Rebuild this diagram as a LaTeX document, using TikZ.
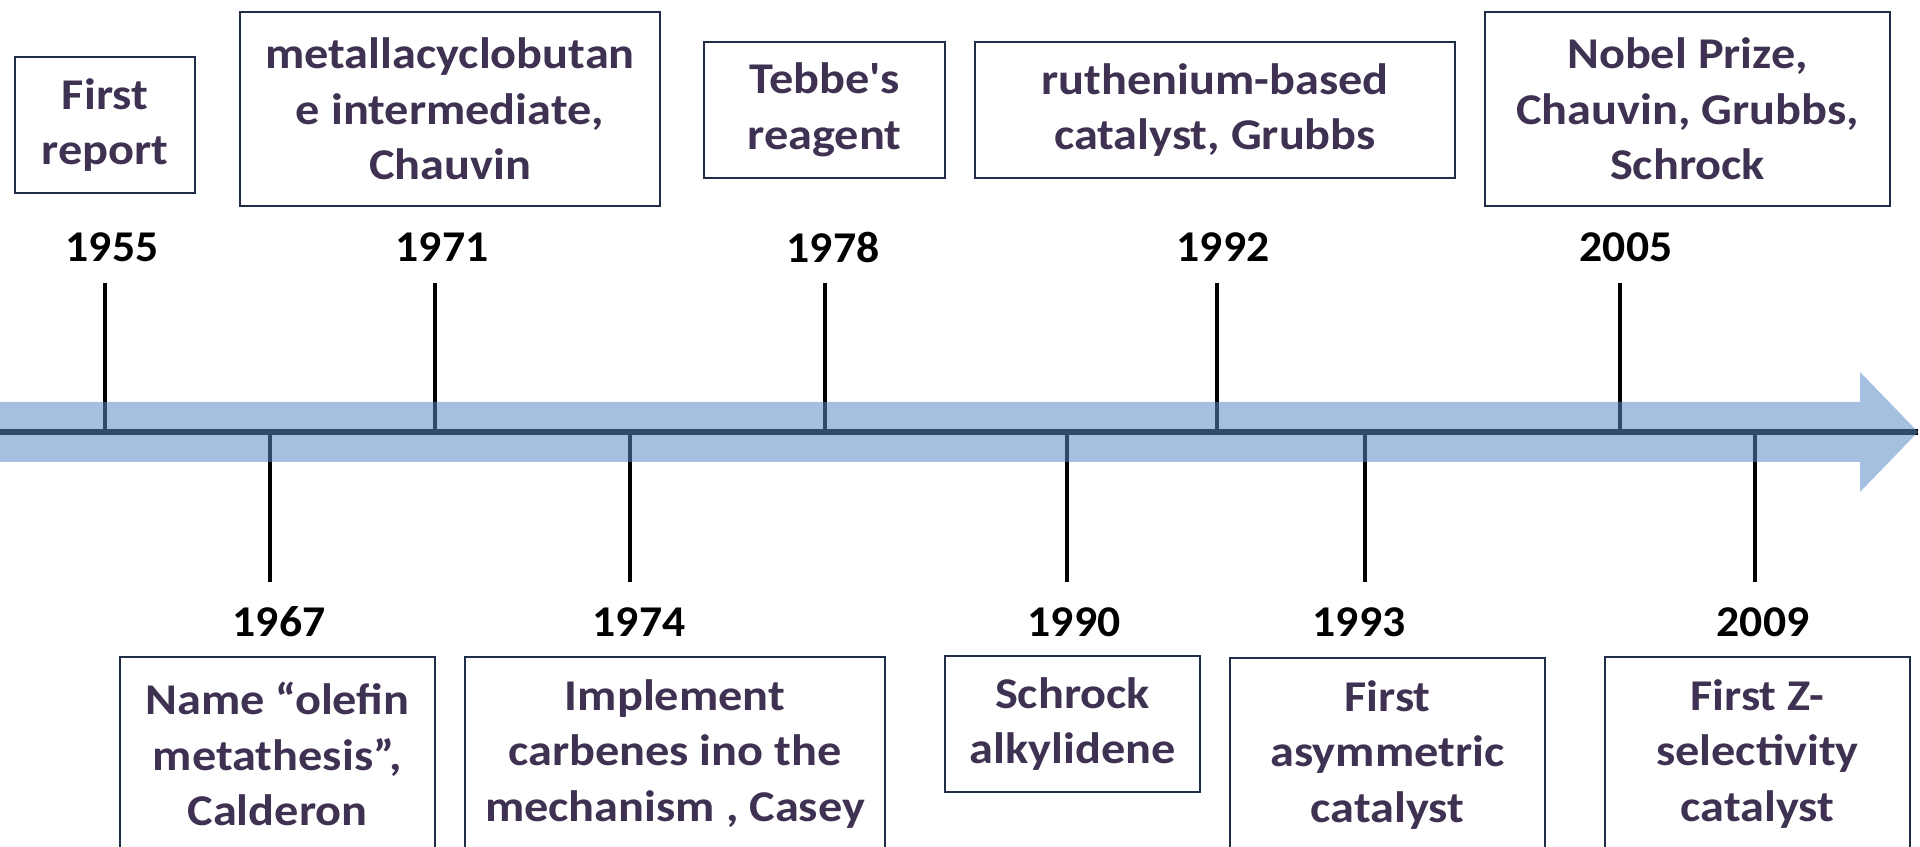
\documentclass[tikz,border=0pt]{standalone}
\usepackage{fontspec}
\setmainfont{Carlito}
\newfontfamily\evfont{Carlito}[FakeStretch=1.10]
\newfontfamily\yrfont{Carlito}[FakeStretch=1.04]
\definecolor{bandblue}{RGB}{87,137,198}
\definecolor{boxline}{RGB}{31,45,71}
\definecolor{evtext}{RGB}{63,49,81}
\tikzset{
  evbox/.style={draw=boxline, line width=0.6pt, inner sep=0pt, align=center,
    text=evtext, font=\evfont\fontsize{12.5}{15.8}\selectfont\bfseries},
  yearlbl/.style={inner sep=0pt, text=black, font=\yrfont\fontsize{12.5}{15}\selectfont\bfseries},
  ticline/.style={black, line width=1.4pt},
}

\begin{document}
\begin{tikzpicture}
  \useasboundingbox (0,0) rectangle (19.2,-8.47);

  %% axis line and the ticks (the band goes over them)
  \coordinate (axL) at (0,-4.32);
  \coordinate (axR) at (19.18,-4.32);
  \draw[black, line width=1.7pt] (axL) -- (axR);

  \coordinate (a55) at (1.05,-4.32);  \coordinate (e55) at (1.05,-2.83);
  \coordinate (a71) at (4.35,-4.32);  \coordinate (e71) at (4.35,-2.83);
  \coordinate (a78) at (8.25,-4.32);  \coordinate (e78) at (8.25,-2.83);
  \coordinate (a92) at (12.17,-4.32); \coordinate (e92) at (12.17,-2.83);
  \coordinate (a05) at (16.20,-4.32); \coordinate (e05) at (16.20,-2.83);
  \coordinate (a67) at (2.70,-4.32);  \coordinate (e67) at (2.70,-5.82);
  \coordinate (a74) at (6.30,-4.32);  \coordinate (e74) at (6.30,-5.82);
  \coordinate (a90) at (10.67,-4.32); \coordinate (e90) at (10.67,-5.82);
  \coordinate (a93) at (13.65,-4.32); \coordinate (e93) at (13.65,-5.82);
  \coordinate (a09) at (17.55,-4.32); \coordinate (e09) at (17.55,-5.82);
  \draw[ticline] (a55) -- (e55);
  \draw[ticline] (a71) -- (e71);
  \draw[ticline] (a78) -- (e78);
  \draw[ticline] (a92) -- (e92);
  \draw[ticline] (a05) -- (e05);
  \draw[ticline] (a67) -- (e67);
  \draw[ticline] (a74) -- (e74);
  \draw[ticline] (a90) -- (e90);
  \draw[ticline] (a93) -- (e93);
  \draw[ticline] (a09) -- (e09);

  %% the big arrow
  \fill[bandblue, fill opacity=0.54] (0,-4.02) -- (18.60,-4.02) -- (18.60,-3.72) -- (19.18,-4.32)
    -- (18.60,-4.92) -- (18.60,-4.62) -- (0,-4.62) -- cycle;

  %% years
  \node[yearlbl] (y55) at (1.12,-2.475) {1955};
  \node[yearlbl] (y71) at (4.42,-2.475) {1971};
  \node[yearlbl] (y78) at (8.33,-2.475) {1978};
  \node[yearlbl] (y92) at (12.23,-2.475) {1992};
  \node[yearlbl] (y05) at (16.26,-2.475) {2005};
  \node[yearlbl] (y67) at (2.79,-6.22) {1967};
  \node[yearlbl] (y74) at (6.39,-6.22) {1974};
  \node[yearlbl] (y90) at (10.74,-6.22) {1990};
  \node[yearlbl] (y93) at (13.59,-6.22) {1993};
  \node[yearlbl] (y09) at (17.63,-6.22) {2009};

  %% events above
  \node[evbox, minimum width=1.80cm, minimum height=1.36cm] (first) at (1.05,-1.25) {First\\report};
  \node[evbox, minimum width=4.20cm, minimum height=1.94cm] (metalla) at (4.50,-1.09)
    {metallacyclobutan\\e intermediate,\\Chauvin};
  \node[evbox, minimum width=2.41cm, minimum height=1.36cm] (tebbe) at (8.245,-1.10)
    {Tebbe\textquotesingle s\\reagent};
  \node[evbox, minimum width=4.80cm, minimum height=1.36cm] (ruthen) at (12.15,-1.10)
    {ruthenium-based\\catalyst, Grubbs};
  \node[evbox, minimum width=4.05cm, minimum height=1.94cm] (nobel) at (16.875,-1.09)
    {Nobel Prize,\\Chauvin, Grubbs,\\Schrock};

  %% events below (cut by the page edge)
  \node[evbox, minimum width=3.15cm, minimum height=1.94cm] (calder) at (2.775,-7.54)
    {Name “olefin\\metathesis”,\\Calderon};
  \node[evbox, minimum width=4.20cm, minimum height=1.94cm] (casey) at (6.75,-7.54)
    {Implement\\carbenes ino the\\mechanism , Casey};
  \node[evbox, minimum width=2.55cm, minimum height=1.36cm] (schrock) at (10.725,-7.24)
    {Schrock\\alkylidene};
  \node[evbox, minimum width=3.15cm, minimum height=1.94cm] (asym) at (13.875,-7.55)
    {First\\asymmetric\\catalyst};
  \node[evbox, minimum width=3.05cm, minimum height=1.94cm] (zsel) at (17.575,-7.54)
    {First Z-\\selectivity\\catalyst};
\end{tikzpicture}
\end{document}
